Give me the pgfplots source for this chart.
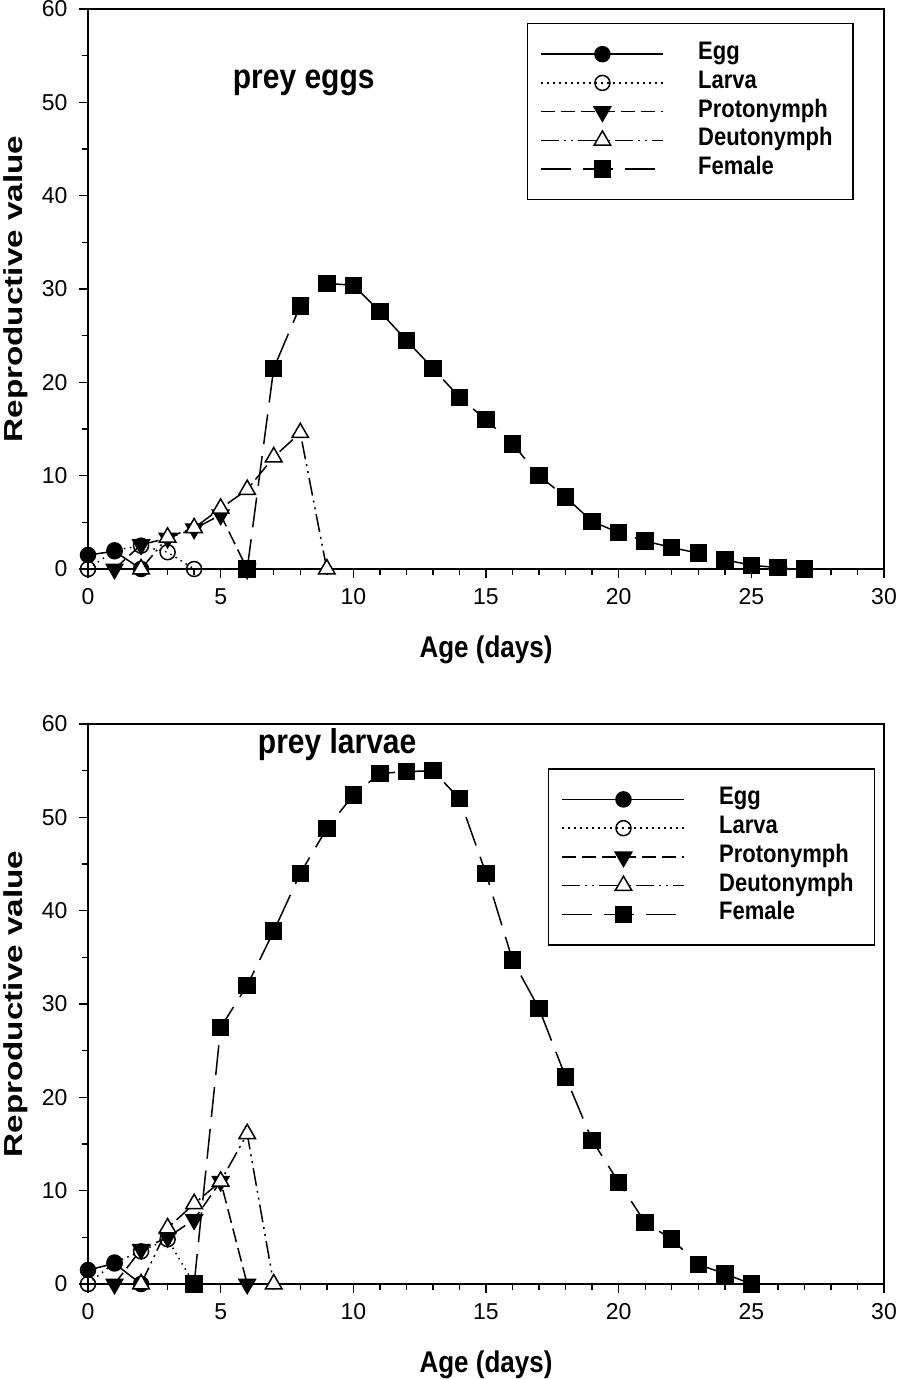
\documentclass[border=0pt]{standalone}
\usepackage{fontspec}
\setmainfont{Liberation Sans}
\usepackage{graphicx}
\usepackage{pgfplots}
\pgfplotsset{compat=1.18}
\pgfplotsset{
  myax/.style={
    scale only axis, width=796pt, height=560pt,
    xmin=0, xmax=30, ymin=0, ymax=60,
    xtick={0,5,...,30}, ytick={0,10,...,60},
    minor x tick num=4, minor y tick num=1,
    tick align=outside, xtick pos=left, ytick pos=left,
    major tick length=9pt, minor tick length=6pt,
    every tick/.style={line width=1.4pt, black},
    axis line style={line width=1.8pt},
    clip=false,
    /pgf/number format/assume math mode=true,
    tick label style={font=\fontsize{23}{23}\selectfont},
    xticklabel style={yshift=-7pt},
    yticklabel style={xshift=-8pt},
    xlabel={\scalebox{1}[1.15]{\bfseries Age (days)}},
    ylabel={\scalebox{1.28}[1]{\bfseries Reproductive value}},
    label style={font=\fontsize{26}{26}\selectfont},
    xlabel style={at={(axis description cs:0.5,-0.1446)}, anchor=center},
    ylabel style={at={(axis description cs:-0.0905,0.5)}, anchor=center},
    legend cell align=left,
    legend style={draw=black, line width=1.3pt, anchor=north west,
      font=\bfseries\fontsize{22}{22}\selectfont,
      inner xsep=13pt, inner ysep=17pt, row sep=1.75pt,
      /tikz/every odd column/.append style={column sep=32pt},
      nodes={text width=140pt, inner sep=2pt, text height=17pt, text depth=6pt}},
    legend image code/.code={\draw[mark repeat=2,mark phase=2,#1] plot coordinates {(0pt,0pt) (61pt,0pt) (122pt,0pt)};},
  },
  egg/.style={black, line width=1.5pt, solid, mark=*, mark size=7.5pt, mark options={solid}},
  larva/.style={black, line width=1.5pt, dash pattern=on 1.5pt off 4.5pt, mark=o, mark size=7.5pt, mark options={solid, fill=white}},
  proto/.style={black, line width=1.5pt, dash pattern=on 14pt off 6pt, mark=triangle*, mark size=9.5pt, mark options={solid, rotate=180}},
  deuto/.style={black, line width=1.5pt, dash pattern=on 18pt off 5pt on 2pt off 5pt on 2pt off 5pt, mark=triangle*, mark size=9.5pt, mark options={solid, fill=white}},
  fem/.style={black, line width=1.5pt, dash pattern=on 30pt off 12pt, mark=square*, mark size=8pt, mark options={solid}},
}
\newcommand{\lgtxt}[1]{\scalebox{1}[1.15]{#1}}
\begin{document}
\begin{tikzpicture}
\useasboundingbox (0pt,0pt) rectangle (898pt,-1379pt);
% ---------- top panel ----------
\begin{axis}[myax, at={(88pt,-569pt)}, anchor=south west,
  legend style={at={(rel axis cs:0.5515,0.975)}}]
\addplot[egg] coordinates {(0,1.5) (1,1.9) (2,0)};
\addlegendentry{\lgtxt{Egg}}
\addplot[larva] coordinates {(0,0) (1,2.0) (2,2.5) (3,1.8) (4,0)};
\addlegendentry{\lgtxt{Larva}}
\addplot[proto] coordinates {(1,0) (2,2.6) (3,3.3) (4,4.3) (5,5.8) (6,0)};
\addlegendentry{\lgtxt{Protonymph}}
\addplot[deuto] coordinates {(2,0) (3,3.4) (4,4.4) (5,6.5) (6,8.5) (7,12.0) (8,14.6) (9,0)};
\addlegendentry{\lgtxt{Deutonymph}}
\addplot[fem] coordinates {(6,0) (7,21.5) (8,28.2) (9,30.6) (10,30.4) (11,27.6) (12,24.5) (13,21.5) (14,18.4) (15,16.0) (16,13.4) (17,10.0) (18,7.7) (19,5.1) (20,3.9) (21,3.0) (22,2.3) (23,1.7) (24,1.0) (25,0.4) (26,0.15) (27,0)};
\addlegendentry{\lgtxt{Female}}
\node[font=\bfseries\fontsize{30}{30}\selectfont] at (rel axis cs:0.271,0.868) {\scalebox{1}[1.15]{prey eggs}};
\end{axis}
% ---------- bottom panel ----------
\begin{axis}[myax, at={(88pt,-1284pt)}, anchor=south west,
  legend style={at={(rel axis cs:0.578,0.921)}}]
\addplot[egg] coordinates {(0,1.5) (1,2.2) (2,0)};
\addlegendentry{\lgtxt{Egg}}
\addplot[larva] coordinates {(0,0) (1,2.3) (2,3.5) (3,4.8) (4,0)};
\addlegendentry{\lgtxt{Larva}}
\addplot[proto] coordinates {(1,0) (2,3.7) (3,5.0) (4,6.9) (5,11.0) (6,0)};
\addlegendentry{\lgtxt{Protonymph}}
\addplot[deuto] coordinates {(2,0) (3,6.0) (4,8.6) (5,11.0) (6,16.1) (7,0)};
\addlegendentry{\lgtxt{Deutonymph}}
\addplot[fem] coordinates {(4,0) (5,27.5) (6,32.0) (7,37.8) (8,44.0) (9,48.8) (10,52.4) (11,54.7) (12,54.9) (13,55.0) (14,52.0) (15,44.0) (16,34.7) (17,29.5) (18,22.2) (19,15.4) (20,10.9) (21,6.6) (22,4.8) (23,2.1) (24,1.1) (25,0)};
\addlegendentry{\lgtxt{Female}}
\node[font=\bfseries\fontsize{30}{30}\selectfont] at (rel axis cs:0.313,0.9625) {\scalebox{1}[1.15]{prey larvae}};
\end{axis}
\end{tikzpicture}
\end{document}
